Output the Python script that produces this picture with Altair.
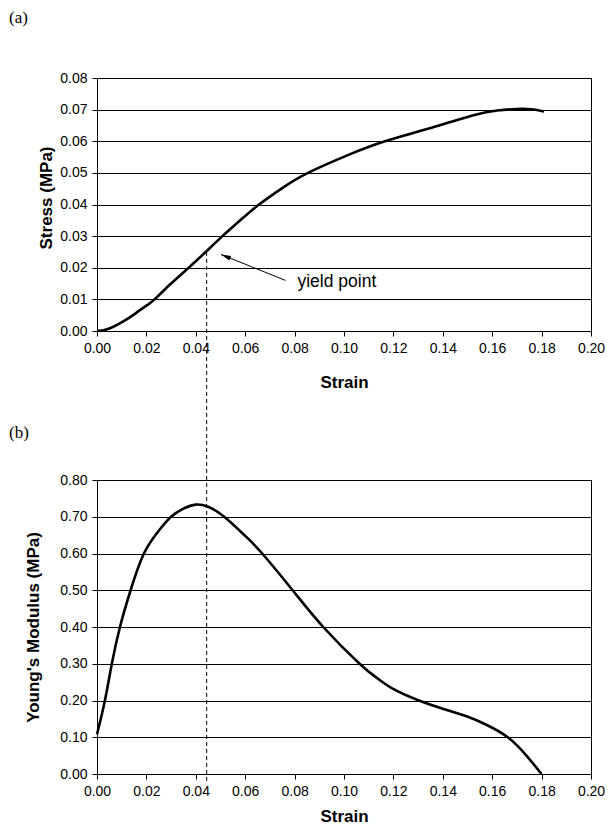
import altair as alt
import pandas as pd

# ---- data ----
strain_a = [0.0, 0.005, 0.012, 0.016, 0.020, 0.0233, 0.030, 0.0371, 0.044, 0.0508,
            0.058, 0.0656, 0.075, 0.0854, 0.1018, 0.1166, 0.1367, 0.1528, 0.162, 0.170,
            0.176, 0.181]
stress_a = [0.0, 0.0008, 0.0037, 0.0058, 0.0080, 0.0100, 0.0150, 0.0200, 0.0250, 0.0300,
            0.0350, 0.0400, 0.0452, 0.0500, 0.0557, 0.0600, 0.0646, 0.0683, 0.0697, 0.0702,
            0.0701, 0.0694]

strain_b = [0.0, 0.0032, 0.006, 0.0093, 0.0136, 0.019, 0.025, 0.030, 0.035, 0.040, 0.045,
            0.0515, 0.060, 0.0669, 0.0792, 0.0916, 0.1063, 0.1136, 0.1203, 0.1303,
            0.1403, 0.1496, 0.1576, 0.1663, 0.1736, 0.180]
modulus_b = [0.108, 0.20, 0.30, 0.40, 0.50, 0.60, 0.662, 0.70, 0.722, 0.733, 0.727,
             0.70, 0.648, 0.60, 0.50, 0.40, 0.30, 0.260, 0.230, 0.20,
             0.177, 0.157, 0.134, 0.10, 0.052, 0.0]

yield_strain = [0.0444]
yield_stress = [0.025]
arrow_tail = [0.0763, 0.016]
arrow_head = [0.0502, 0.0242]
annotation = ["yield point"]
panel_labels = ["(a)", "(b)"]

x_ticks = [0.0, 0.02, 0.04, 0.06, 0.08, 0.10, 0.12, 0.14, 0.16, 0.18, 0.20]
ya_ticks = [0.0, 0.01, 0.02, 0.03, 0.04, 0.05, 0.06, 0.07, 0.08]
yb_ticks = [0.0, 0.1, 0.2, 0.3, 0.4, 0.5, 0.6, 0.7, 0.8]

W, H1, H2, SP = 494, 253, 294, 149
FONT = "Liberation Sans"

df_a = pd.DataFrame({"strain": strain_a, "stress": stress_a})
df_b = pd.DataFrame({"strain": strain_b, "modulus": modulus_b})
df_y = pd.DataFrame({"strain": yield_strain, "stress": yield_stress})
df_arrow = pd.DataFrame({"strain": [arrow_tail[0]], "stress": [arrow_tail[1]],
                         "strain2": [arrow_head[0]], "stress2": [arrow_head[1]]})
df_head = pd.DataFrame({"strain": [arrow_head[0]], "stress": [arrow_head[1]]})
df_text = pd.DataFrame({"strain": [arrow_tail[0]], "stress": [arrow_tail[1]], "t": annotation})
df_pa = pd.DataFrame({"t": [panel_labels[0]]})
df_pb = pd.DataFrame({"t": [panel_labels[1]]})

xscale = alt.Scale(domain=[0, 0.2], nice=False, zero=False)


def x_axis(title_y):
    return alt.Axis(title="Strain", values=x_ticks, format=".2f", grid=False, ticks=True,
                    labelFlush=False, labelOverlap=False, titleY=title_y,
                    titleBaseline="middle")


XA = alt.X("strain:Q", scale=xscale, axis=x_axis(51))
YA = alt.Y("stress:Q", scale=alt.Scale(domain=[0, 0.08], nice=False),
           axis=alt.Axis(title="Stress (MPa)", values=ya_ticks, format=".2f", ticks=True,
                         labelFlush=False, labelOverlap=False,
                         titleX=-51, titleY=H1 / 2 - 7, titleBaseline="middle"))

# ---- panel (a) ----
curve_a = alt.Chart(df_a).mark_line(color="black", strokeWidth=2.6,
                                    interpolate="natural").encode(x=XA, y=YA)

dash = alt.Chart(df_y).mark_rule(color="black", strokeWidth=1, strokeDash=[4, 3]).encode(
    x=XA, y=YA, y2=alt.value(H1 + SP + H2 + 10),
)

arrow_line = alt.Chart(df_arrow).mark_rule(color="black", strokeWidth=1).encode(
    x=XA, y=YA, x2="strain2:Q", y2="stress2:Q"
)

arrow_tip = alt.Chart(df_head).mark_point(
    shape="M0,0L0.5,2L-0.5,2Z", filled=True, color="black", opacity=1, size=100, angle=292
).encode(x=XA, y=YA)

label = alt.Chart(df_text).mark_text(
    align="left", baseline="middle", dx=12, dy=2, fontSize=17.5, font=FONT, color="black"
).encode(x=XA, y=YA, text="t:N")

lab_a = alt.Chart(df_pa).mark_text(
    align="left", baseline="top", fontSize=17, font="Liberation Serif", color="black"
).encode(x=alt.value(-88), y=alt.value(-68), text="t:N")

top = alt.layer(curve_a, dash, arrow_line, arrow_tip, label, lab_a).properties(width=W, height=H1)

# ---- panel (b) ----
XB = alt.X("strain:Q", scale=xscale, axis=x_axis(42))
YB = alt.Y("modulus:Q", scale=alt.Scale(domain=[0, 0.8], nice=False),
           axis=alt.Axis(title="Young's Modulus (MPa)", values=yb_ticks, format=".2f",
                         ticks=True, labelFlush=False, labelOverlap=False,
                         titleX=-64, titleY=H2 / 2, titleBaseline="middle"))

curve_b = alt.Chart(df_b).mark_line(color="black", strokeWidth=2.6,
                                    interpolate="natural").encode(x=XB, y=YB)

lab_b = alt.Chart(df_pb).mark_text(
    align="left", baseline="top", fontSize=17, font="Liberation Serif", color="black"
).encode(x=alt.value(-88), y=alt.value(-55), text="t:N")

bottom = alt.layer(curve_b, lab_b).properties(width=W, height=H2)

chart = alt.vconcat(top, bottom, spacing=SP, bounds="flush").properties(
    padding={"left": 0, "top": 0, "right": 0, "bottom": 0},
    background="white",
).configure_view(
    stroke="black", strokeWidth=1
).configure_axis(
    domainColor="black", domainWidth=1,
    tickColor="black", tickSize=5, tickWidth=1,
    gridColor="black", gridWidth=1, gridOpacity=1,
    labelFont=FONT, labelFontSize=14, labelColor="black", labelPadding=5,
    titleFont=FONT, titleFontSize=17, titleFontWeight="bold", titleColor="black",
)

chart.save("out.html", embed_options={"renderer": "svg", "actions": False})
